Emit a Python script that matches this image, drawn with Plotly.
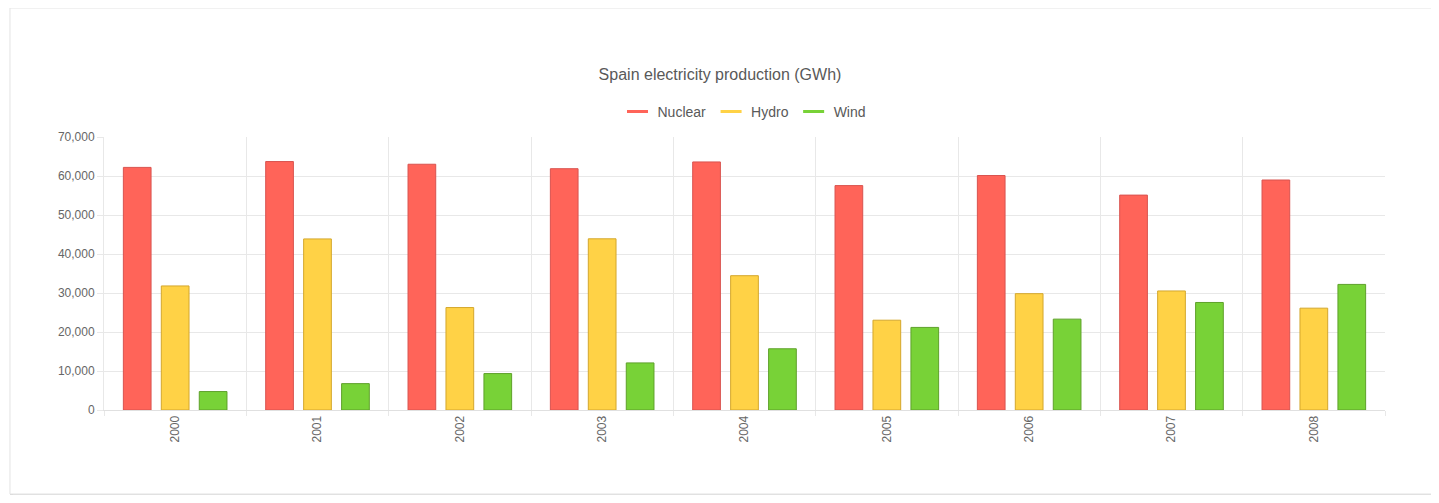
import plotly.graph_objects as go

# Spain electricity production (GWh)
years = ["2000", "2001", "2002", "2003", "2004", "2005", "2006", "2007", "2008"]
nuclear = [62206, 63708, 63016, 61875, 63606, 57539, 60126, 55103, 58973]
hydro = [31807, 43864, 26270, 43897, 34439, 23025, 29831, 30522, 26112]
wind = [4727, 6759, 9342, 12075, 15700, 21176, 23297, 27568, 32203]

series = [
    ("Nuclear", nuclear, "#ff6459", "#d9534f"),
    ("Hydro", hydro, "#ffd246", "#d4a72c"),
    ("Wind", wind, "#78d237", "#5ea12a"),
]

fig = go.Figure()
for name, vals, fill, edge in series:
    fig.add_trace(go.Bar(x=years, y=vals, name=name, showlegend=False,
                         marker=dict(color=fill, line=dict(color=edge, width=1))))
# legend entries drawn as short lines
for name, vals, fill, edge in series:
    fig.add_trace(go.Scatter(x=[None], y=[None], name=name, mode="markers",
                             marker=dict(symbol="line-ew", size=15,
                                         line=dict(color=fill, width=3))))

# page body has an 8px margin, so the figure is sized to fit inside it
W, H = 1427, 487
font_col = "#595959"
fig.update_layout(
    width=W, height=H,
    margin=dict(l=96, r=50, t=129, b=85),
    paper_bgcolor="white", plot_bgcolor="white",
    font=dict(family="Liberation Sans, Arial, sans-serif", size=12, color="#666666"),
    title=dict(text="Spain electricity production (GWh)", x=(720 - 8) / W, xanchor="center",
               y=1 - 66 / H, yanchor="middle", yref="container",
               font=dict(size=16, color=font_col)),
    legend=dict(orientation="h", x=0.5, xanchor="center", y=1.092, yanchor="middle",
                font=dict(size=14, color=font_col), itemwidth=30, tracegroupgap=0),
    barmode="group", bargap=0.2, bargroupgap=0.27,
    shapes=[
        dict(type="rect", xref="paper", yref="paper",
             x0=-0.0734 + 0.0012, x1=1.0367 + 0.0016, y0=1.4725, y1=-0.3077 - 0.006,
             line=dict(color="#d4d4d4", width=3), layer="below"),
        dict(type="rect", xref="paper", yref="paper",
             x0=-0.0734, x1=1.0367, y0=1.4725, y1=-0.3077,
             line=dict(color="#e3e3e3", width=1), fillcolor="white", layer="below"),
    ],
)
fig.update_xaxes(type="category", tickson="boundaries", showgrid=True, gridcolor="#e8e8e8",
                 ticks="outside", ticklen=5, tickcolor="#e8e8e8", tickangle=-90,
                 showline=True, linecolor="#e0e0e0", tickfont=dict(size=12, color="#666666"))
fig.update_yaxes(range=[0, 70000], dtick=10000, tickformat=",", showgrid=True,
                 gridcolor="#e8e8e8", ticks="outside", ticklen=6, tickcolor="#e8e8e8",
                 showline=True, linecolor="#e8e8e8", zeroline=False,
                 tickfont=dict(size=12, color="#666666"))

fig.write_html("out.html")
